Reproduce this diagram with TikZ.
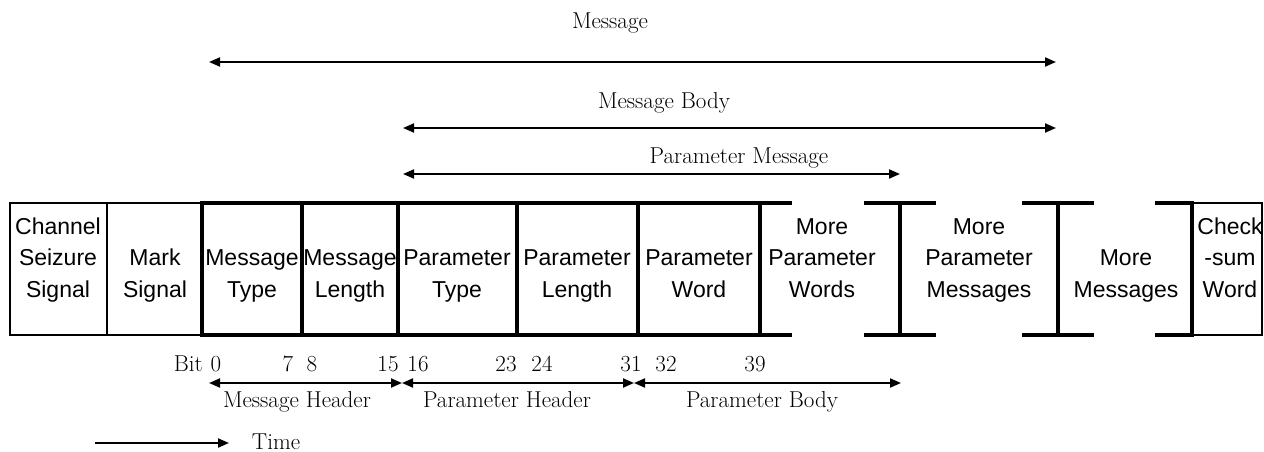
\documentclass[tikz,border=0pt]{standalone}
\usepackage{fontspec}
\newfontfamily\cellfont{Liberation Sans}
\usetikzlibrary{arrows.meta}

\begin{document}
\begin{tikzpicture}[x=1pt,y=-1pt,
  cell/.style={font=\cellfont\fontsize{23}{31.5}\selectfont,align=center,anchor=north,inner sep=0pt},
  lbl/.style={font=\fontsize{23}{28}\selectfont,anchor=base,inner sep=0pt},
  span/.style={{Triangle[length=11pt,width=9pt]}-{Triangle[length=11pt,width=9pt]},line width=2pt},
  edge/.style={line width=2pt},
  frame/.style={line width=4.5pt}]
\useasboundingbox (0,0) rectangle (1264,452);
% thin cells on the left and right
\draw[edge] (202,203)--(10,203)--(10,335)--(202,335);
\draw[edge] (107,203)--(107,335);
\draw[edge] (1192,203)--(1262,203)--(1262,335)--(1192,335);
% thick frame of the message
\draw[frame] (792,203)--(202,203)--(202,335)--(792,335);
\foreach \x in {302,398,517,638,760}
  \draw[frame] (\x,203)--(\x,335);
% brackets
\foreach \x in {900,1058} {
  \draw[frame] (\x-36,203)--(\x+36,203);
  \draw[frame] (\x-36,335)--(\x+36,335);
  \draw[frame] (\x,203)--(\x,335);
}
\draw[frame] (1155,203)--(1192,203)--(1192,335)--(1155,335);
% field names
\node[cell] (seize) at (58,212) {\strut Channel\\Seizure\\Signal};
\node[cell] (mark) at (155,212) {\strut\\Mark\\Signal};
\node[cell] (mtype) at (252,212) {\strut\\Message\\Type};
\node[cell] (mlen) at (350,212) {\strut\\Message\\Length};
\node[cell] (ptype) at (457,212) {\strut\\Parameter\\Type};
\node[cell] (plen) at (577,212) {\strut\\Parameter\\Length};
\node[cell] (pword) at (699,212) {\strut\\Parameter\\Word};
\node[cell] (mwords) at (822,212) {\strut More\\Parameter\\Words};
\node[cell] (mpmsg) at (979,212) {\strut More\\Parameter\\Messages};
\node[cell] (mmsg) at (1126,212) {\strut\\More\\Messages};
\node[cell] (csum) at (1230,212) {\strut Check\\-sum\\Word};
% spans above
\coordinate (msgL) at (209,62);  \coordinate (msgR) at (1056,62);
\coordinate (bodyL) at (403,128); \coordinate (bodyR) at (1056,128);
\coordinate (parL) at (403,174); \coordinate (parR) at (900,174);
\draw[span] (msgL)--(msgR);
\draw[span] (bodyL)--(bodyR);
\draw[span] (parL)--(parR);
\node[lbl] (msg) at (610,29) {Message};
\node[lbl] (body) at (664,108) {Message Body};
\node[lbl] (par) at (739,163) {Parameter Message};
% bit numbers
\node[lbl,anchor=base east] (bit) at (203,371) {Bit};
\node[lbl] (b0) at (216,371) {0};
\node[lbl] (b7) at (288,371) {7};
\node[lbl] (b8) at (312,371) {8};
\node[lbl] (b15) at (388,371) {15};
\node[lbl] (b16) at (418,371) {16};
\node[lbl] (b23) at (506,371) {23};
\node[lbl] (b24) at (542,371) {24};
\node[lbl] (b31) at (631,371) {31};
\node[lbl] (b32) at (666,371) {32};
\node[lbl] (b39) at (755,371) {39};
% spans below
\coordinate (hdrA) at (209,383); \coordinate (hdrB) at (402,383);
\coordinate (hdrC) at (634,383); \coordinate (hdrD) at (901,383);
\draw[span] (hdrA)--(hdrB);
\draw[span] (hdrB)--(hdrC);
\draw[span] (hdrC)--(hdrD);
\node[lbl] (mhdr) at (297,407) {Message Header};
\node[lbl] (phdr) at (507,407) {Parameter Header};
\node[lbl] (pbody) at (762,407) {Parameter Body};
% time
\coordinate (timeL) at (95,443); \coordinate (timeR) at (229,443);
\draw[line width=2pt,-{Triangle[length=11pt,width=9pt]}] (timeL)--(timeR);
\node[lbl] (time) at (276,449) {Time};
\end{tikzpicture}
\end{document}
